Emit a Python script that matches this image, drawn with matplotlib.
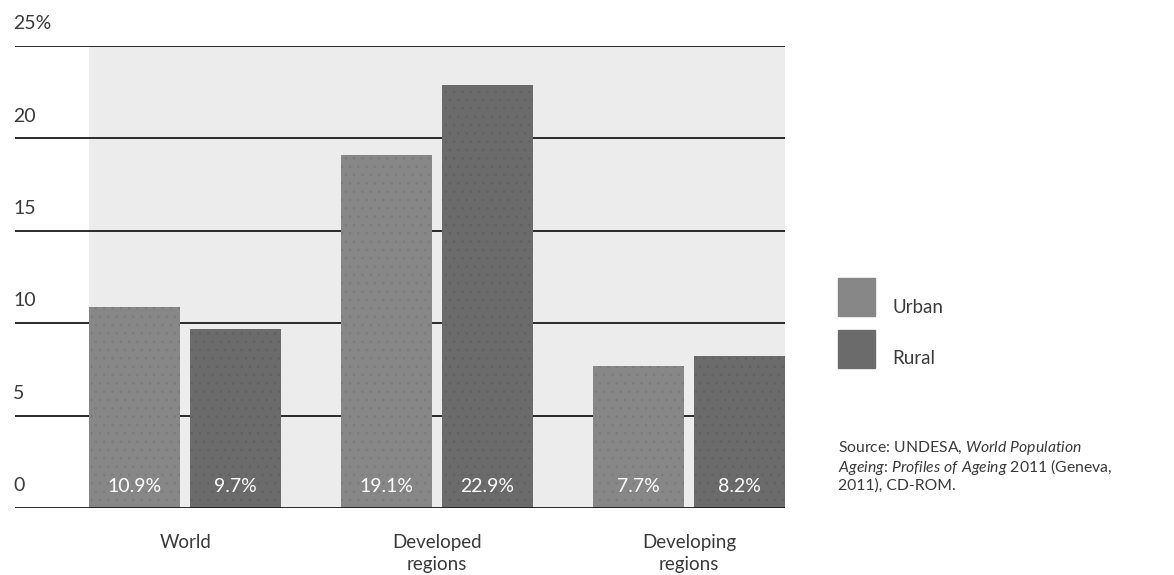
import matplotlib
matplotlib.use("Agg")
import matplotlib.pyplot as plt
import matplotlib.patches as mpatches
from matplotlib.transforms import blended_transform_factory
import numpy as np

# ---------------------------------------------------------------------------
# Data: share of population aged 60+ (%), urban vs rural
# ---------------------------------------------------------------------------
CATEGORIES = ["World", "Developed\nregions", "Developing\nregions"]
URBAN = [10.9, 19.1, 7.7]
RURAL = [9.7, 22.9, 8.2]
YTICKS = [0, 5, 10, 15, 20, 25]
YTICK_LABELS = ["0", "5", "10", "15", "20", "25%"]

URBAN_COL = "#878787"
RURAL_COL = "#6b6b6b"
BG_COL = "#ececec"
TEXT_COL = "#3a3a3a"

plt.rcParams["font.family"] = ["Lato", "DejaVu Sans"]
plt.rcParams["mathtext.fontset"] = "custom"
plt.rcParams["mathtext.rm"] = "Lato"
plt.rcParams["mathtext.it"] = "Lato:italic"
plt.rcParams["hatch.linewidth"] = 0.6

fig = plt.figure(figsize=(11.74, 5.75), dpi=100)
ax = fig.add_axes([15 / 1174, 67 / 575, 770 / 1174, 462 / 575])

x = np.arange(len(CATEGORIES))
width = 0.362
off = 0.201

# stippled grey background behind the bars
ax.axvspan(-0.382, 2.382, color=BG_COL, zorder=0, lw=0)

ax.bar(x - off, URBAN, width, color=URBAN_COL, edgecolor="#7c7c7c",
       linewidth=0, hatch="..", zorder=2)
ax.bar(x + off, RURAL, width, color=RURAL_COL, edgecolor="#626262",
       linewidth=0, hatch="..", zorder=2)

# gridlines drawn over the background, full width
for t in YTICKS:
    ax.axhline(t, color="#1a1a1a", lw=1.3, zorder=1 if t else 3)

ax.set_xlim(-0.676, 2.382)
ax.set_ylim(0, 25)
ax.axis("off")

# y labels sit above each gridline
tr = blended_transform_factory(fig.transFigure, ax.transData)
for t, lab in zip(YTICKS, YTICK_LABELS):
    ax.text(13 / 1174, t + 0.75, lab, transform=tr, fontsize=14,
            color=TEXT_COL, ha="left", va="bottom")

# value labels at the bottom of each bar
for xi, u, r in zip(x, URBAN, RURAL):
    ax.text(xi - off, 0.7, f"{u}%", color="white", fontsize=14,
            ha="center", va="bottom", zorder=4)
    ax.text(xi + off, 0.7, f"{r}%", color="white", fontsize=14,
            ha="center", va="bottom", zorder=4)

# category labels
for xi, cat in zip(x, CATEGORIES):
    ax.text(xi, -1.4, cat, ha="center", va="top", fontsize=13.5,
            color=TEXT_COL, linespacing=1.4)

# legend
fig.patches.append(mpatches.Rectangle((838 / 1174, 1 - 316 / 575), 37 / 1174, 38 / 575,
                                      transform=fig.transFigure, color=URBAN_COL))
fig.patches.append(mpatches.Rectangle((838 / 1174, 1 - 368 / 575), 37 / 1174, 38 / 575,
                                      transform=fig.transFigure, color=RURAL_COL))
fig.text(892 / 1174, 1 - 308 / 575, "Urban", fontsize=13.5, color=TEXT_COL, va="center")
fig.text(892 / 1174, 1 - 358 / 575, "Rural", fontsize=13.5, color=TEXT_COL, va="center")

# source note
fig.text(838 / 1174, 1 - 448 / 575,
         "Source: UNDESA, $\\it{World\\ Population}$", fontsize=11.3,
         color=TEXT_COL, va="center")
fig.text(838 / 1174, 1 - 467 / 575,
         "$\\it{Ageing}$: $\\it{Profiles\\ of\\ Ageing\\ 2011}$ (Geneva,",
         fontsize=11.3, color=TEXT_COL, va="center")
fig.text(838 / 1174, 1 - 486 / 575, "2011), CD-ROM.", fontsize=11.3,
         color=TEXT_COL, va="center")

fig.savefig("out.png", dpi=100)
